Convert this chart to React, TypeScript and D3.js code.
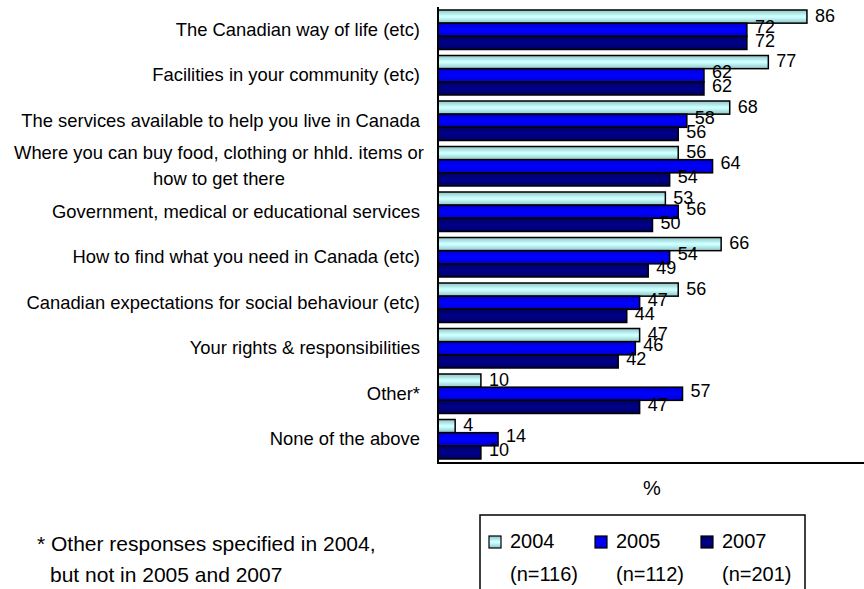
import React from "react";
import * as d3 from "d3";

const categories = [
  "The Canadian way of life (etc)",
  "Facilities in your community (etc)",
  "The services available to help you live in Canada",
  "Where you can buy food, clothing or hhld. items or|how to get there",
  "Government, medical or educational services",
  "How to find what you need in Canada (etc)",
  "Canadian expectations for social behaviour (etc)",
  "Your rights & responsibilities",
  "Other*",
  "None of the above",
];
const seriesNames = ["2004", "2005", "2007"];
const seriesN = ["(n=116)", "(n=112)", "(n=201)"];
const values2004 = [86, 77, 68, 56, 53, 66, 56, 47, 10, 4];
const values2005 = [72, 62, 58, 64, 56, 54, 47, 46, 57, 14];
const values2007 = [72, 62, 56, 54, 50, 49, 44, 42, 47, 10];
const footnote = ["* Other responses specified in 2004,", "but not in 2005 and 2007"];

const W = 864;
const H = 589;
const FONT = "'Liberation Sans', Arial, Helvetica, sans-serif";
const colors = [
  { edge: "#8fc4c4", mid: "#ccffff" },
  { edge: "#0000c8", mid: "#0000ff" },
  { edge: "#000060", mid: "#000088" },
];
const labelDy = [5, 3, 4];

export default function App() {
  const series = [values2004, values2005, values2007];
  const x = d3.scaleLinear().domain([0, 100]).range([438, 867]);
  const y = d3
    .scaleBand<number>()
    .domain(d3.range(categories.length))
    .range([7, 462])
    .paddingInner(0.132)
    .paddingOuter(0.066);
  const ys = d3.scaleBand<number>().domain([0, 1, 2]).range([0, y.bandwidth()]);

  return (
    <svg
      width={W}
      height={H}
      style={{ position: "absolute", left: 0, top: 0, background: "#fff" }}
      fontFamily={FONT}
    >
      <defs>
        {colors.map((c, i) => (
          <linearGradient key={i} id={`g${i}`} x1="0" y1="0" x2="0" y2="1">
            <stop offset="0" stopColor={c.edge} />
            <stop offset="0.45" stopColor={c.mid} />
            <stop offset="0.55" stopColor={c.mid} />
            <stop offset="1" stopColor={c.edge} />
          </linearGradient>
        ))}
      </defs>

      {/* category labels */}
      {categories.map((c, i) => {
        const cy = (y(i) as number) + y.bandwidth() / 2;
        const lines = c.split("|");
        if (lines.length === 1) {
          return (
            <text key={i} x={420} y={cy + 6} textAnchor="end" fontSize={18.4} fill="#000">
              {c}
            </text>
          );
        }
        return (
          <g key={i}>
            {lines.map((l, k) => (
              <text
                key={k}
                x={219}
                y={cy - 7 + k * 26}
                textAnchor="middle"
                fontSize={18.4}
                fill="#000"
              >
                {l}
              </text>
            ))}
          </g>
        );
      })}

      {/* bars */}
      {series.map((vals, s) =>
        vals.map((v, i) => {
          const by = (y(i) as number) + (ys(s) as number);
          return (
            <rect
              key={`${s}-${i}`}
              x={x(0)}
              y={by}
              width={x(v) - x(0)}
              height={ys.bandwidth()}
              fill={`url(#g${s})`}
              stroke="#000"
              strokeWidth={1.5}
            />
          );
        })
      )}

      {/* value labels */}
      {series.map((vals, s) =>
        vals.map((v, i) => {
          const by = (y(i) as number) + (ys(s) as number) + ys.bandwidth() / 2;
          return (
            <text
              key={`l${s}-${i}`}
              x={x(v) + 8}
              y={by + labelDy[s]}
              fontSize={18}
              fill="#000"
            >
              {v}
            </text>
          );
        })
      )}

      {/* axes */}
      <line x1={438} x2={438} y1={7} y2={463} stroke="#000" strokeWidth={2} />
      <line x1={437} x2={W} y1={463} y2={463} stroke="#000" strokeWidth={2} />

      <text x={652} y={495} textAnchor="middle" fontSize={20} fill="#000">
        %
      </text>

      {/* legend */}
      <rect x={480} y={515} width={325} height={90} fill="#fff" stroke="#000" strokeWidth={1.5} />
      {seriesNames.map((n, s) => {
        const sx = [489, 595, 701][s];
        return (
          <g key={n}>
            <rect
              x={sx}
              y={536}
              width={12}
              height={12}
              fill={`url(#g${s})`}
              stroke="#000"
              strokeWidth={1.2}
            />
            <text x={sx + 21} y={548} fontSize={20} fill="#000">
              {n}
            </text>
            <text x={sx + 21} y={581} fontSize={20} fill="#000">
              {seriesN[s]}
            </text>
          </g>
        );
      })}

      {/* footnote */}
      <text x={37} y={551} fontSize={21} fill="#000">
        {footnote[0]}
      </text>
      <text x={50} y={582} fontSize={21} fill="#000">
        {footnote[1]}
      </text>
    </svg>
  );
}
